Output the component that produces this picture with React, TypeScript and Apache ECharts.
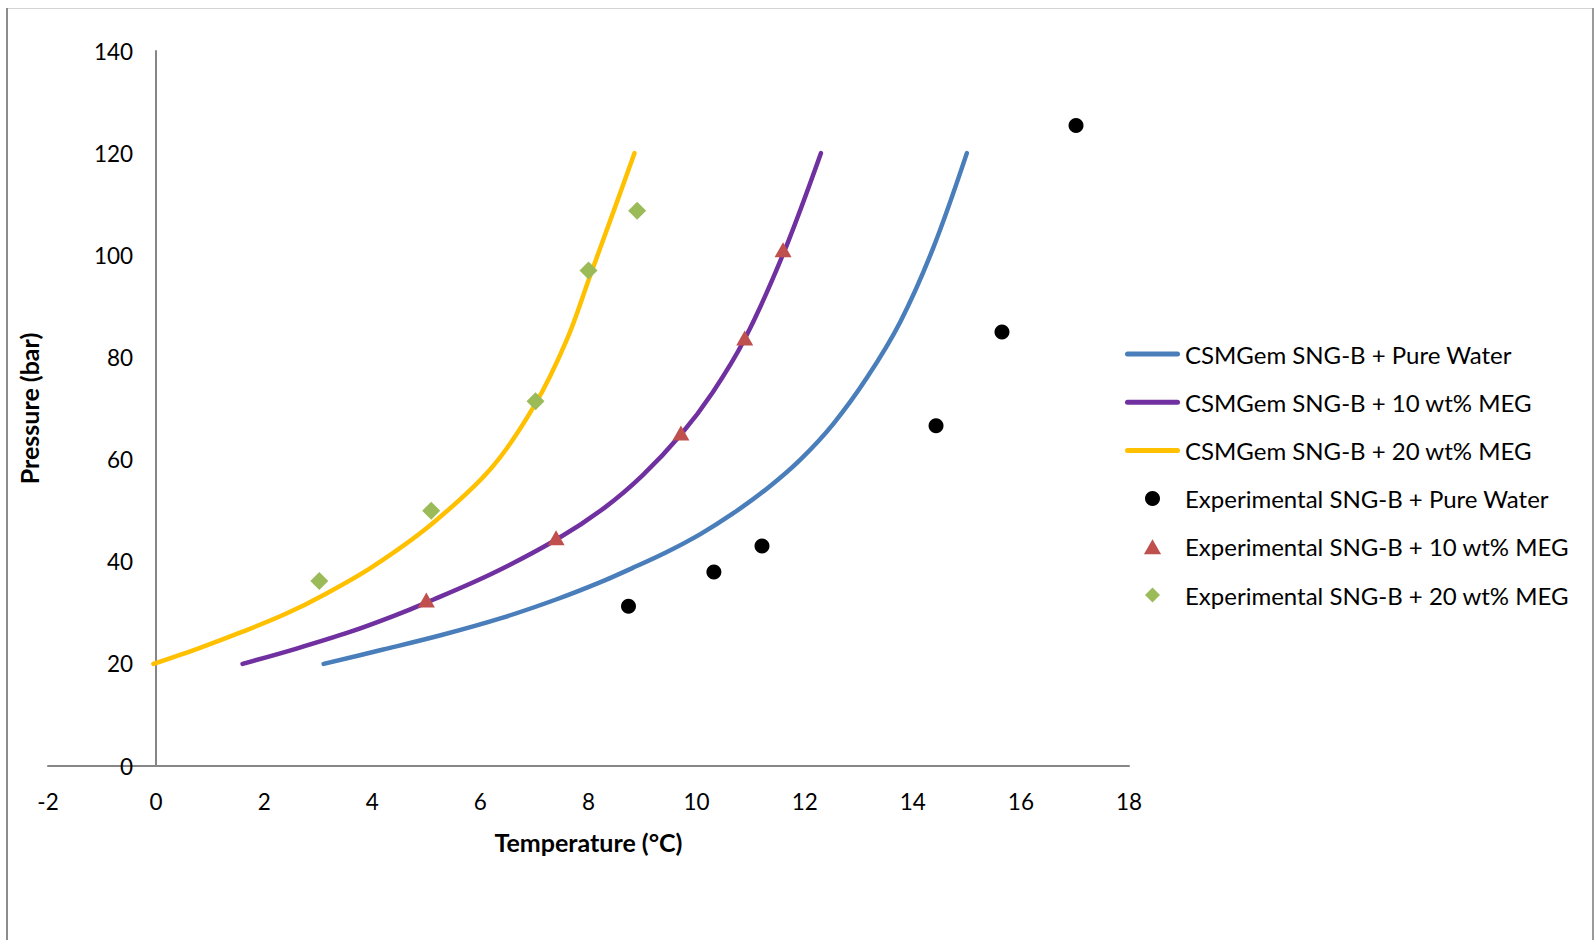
import React, { useEffect, useRef } from "react";
import * as echarts from "echarts";

const seriesNames = [
  "CSMGem SNG-B + Pure Water",
  "CSMGem SNG-B + 10 wt% MEG",
  "CSMGem SNG-B + 20 wt% MEG",
  "Experimental SNG-B + Pure Water",
  "Experimental SNG-B + 10 wt% MEG",
  "Experimental SNG-B + 20 wt% MEG",
];

// CSMGem model curves (temperature °C, pressure bar)
const modelWaterT = [3.1, 4.2, 5.3, 6.4, 7.4, 8.2, 8.8, 9.45, 10.07, 10.68, 11.3, 11.92, 12.53, 13.15, 13.77, 14.38, 15.0];
const modelWaterP = [20, 22.8, 25.7, 29.0, 32.6, 35.9, 38.7, 41.9, 45.4, 49.5, 54.3, 60.0, 67.0, 76.0, 87.0, 101.5, 120];

const modelMeg10T = [1.6, 2.6, 3.6, 4.4, 5.0, 6.2, 7.4, 8.3, 9.0, 9.71, 10.3, 10.89, 11.6, 12.3];
const modelMeg10P = [20, 23.0, 26.3, 29.4, 32.0, 37.6, 44.3, 50.6, 56.9, 64.9, 73.2, 83.6, 100.2, 120];

const modelMeg20T = [-0.05, 0.8, 1.6, 2.4, 3.1, 4.0, 5.1, 6.2, 7.0, 7.6, 8.03, 8.46, 8.85];
const modelMeg20P = [20, 23.1, 26.3, 29.8, 33.5, 39.0, 47.4, 58.3, 70.6, 83.5, 96.0, 108.5, 120];

// Experimental points
const expWaterT = [8.74, 10.32, 11.21, 14.43, 15.65, 17.02];
const expWaterP = [31.3, 38.0, 43.1, 66.6, 85.0, 125.4];

const expMeg10T = [5.0, 7.4, 9.71, 10.89, 11.6];
const expMeg10P = [32.5, 44.7, 65.2, 83.8, 101.1];

const expMeg20T = [3.02, 5.09, 7.02, 8.0, 8.9];
const expMeg20P = [36.2, 50.0, 71.4, 97.0, 108.7];

const xMin = -2, xMax = 18, xStep = 2;
const yMin = 0, yMax = 140, yStep = 20;

const zip = (a: number[], b: number[]) => a.map((v, i) => [v, b[i]]);

const FONT = "Lato, 'Open Sans', sans-serif";
const lineIcon = "path://M2.5,0 L52.5,0 A2.5,2.5 0 0 1 52.5,5 L2.5,5 A2.5,2.5 0 0 1 2.5,0 Z";
const triIcon = "path://M8,0 L16,14 L0,14 Z";
const diaIcon = "path://M7.5,0 L15,7.5 L7.5,15 L0,7.5 Z";
const dotIcon = "path://M7.5,0 A7.5,7.5 0 1 1 7.49,0 Z";

const GRID_LEFT = 48, GRID_RIGHT = 466, GRID_TOP = 51, GRID_BOTTOM = 174, W = 1595;

export default function App() {
  const ref = useRef<HTMLDivElement>(null);
  useEffect(() => {
    document.body.style.margin = "0";
    if (!ref.current) return;
    const chart = echarts.init(ref.current, null, { renderer: "svg" });
    const lineColors = ["#4A7EBB", "#7030A0", "#FFC000"];
    const modelData = [zip(modelWaterT, modelWaterP), zip(modelMeg10T, modelMeg10P), zip(modelMeg20T, modelMeg20P)];
    const expData = [zip(expWaterT, expWaterP), zip(expMeg10T, expMeg10P), zip(expMeg20T, expMeg20P)];
    const expColors = ["#000000", "#C0504D", "#9BBB59"];
    const expSymbols = ["circle", "triangle", "diamond"];
    const expSizes: any[] = [15, [17, 15], 18];

    // y axis crosses the x axis at T = 0
    const plotW = W - GRID_LEFT - GRID_RIGHT;
    const yAxisOffset = -((0 - xMin) / (xMax - xMin)) * plotW;

    const series: any[] = [];
    modelData.forEach((d, i) => {
      series.push({
        name: seriesNames[i],
        type: "line",
        data: d,
        smooth: 0.35,
        symbol: "none",
        showSymbol: false,
        color: lineColors[i],
        lineStyle: { width: 4.5, color: lineColors[i], cap: "round" },
        z: 2,
      });
    });
    expData.forEach((d, i) => {
      series.push({
        name: seriesNames[i + 3],
        type: "scatter",
        data: d,
        symbol: expSymbols[i],
        symbolSize: expSizes[i],
        color: expColors[i],
        itemStyle: { color: expColors[i], opacity: 1 },
        z: 3,
      });
    });

    chart.setOption({
      animation: false,
      backgroundColor: "#ffffff",
      grid: { left: GRID_LEFT, right: GRID_RIGHT, top: GRID_TOP, bottom: GRID_BOTTOM, containLabel: false, outerBoundsMode: "none" },
      xAxis: {
        type: "value",
        min: xMin,
        max: xMax,
        interval: xStep,
        name: "Temperature (°C)",
        nameLocation: "middle",
        nameGap: 63,
        nameTextStyle: { fontFamily: FONT, fontSize: 25, fontWeight: "bold", color: "#000" },
        axisLine: { show: true, onZero: false, lineStyle: { color: "#868686", width: 2 } },
        axisTick: { show: false },
        splitLine: { show: false },
        axisLabel: { fontFamily: FONT, fontSize: 22.5, color: "#000", margin: 24 },
      },
      yAxis: {
        type: "value",
        min: yMin,
        max: yMax,
        interval: yStep,
        offset: yAxisOffset,
        name: "Pressure (bar)",
        nameLocation: "middle",
        nameGap: 115,
        nameTextStyle: { fontFamily: FONT, fontSize: 25, fontWeight: "bold", color: "#000" },
        axisLine: { show: true, onZero: false, lineStyle: { color: "#868686", width: 2 } },
        axisTick: { show: false },
        splitLine: { show: false },
        axisLabel: { fontFamily: FONT, fontSize: 22.5, color: "#000", margin: 23 },
      },
      legend: {
        orient: "vertical",
        left: 1120,
        top: 337,
        padding: 5,
        itemWidth: 55,
        itemHeight: 15,
        itemGap: 24.2,
        symbolKeepAspect: true,
        textStyle: { fontFamily: FONT, fontSize: 24, lineHeight: 22, color: "#000" },
        data: [
          { name: seriesNames[0], icon: lineIcon },
          { name: seriesNames[1], icon: lineIcon },
          { name: seriesNames[2], icon: lineIcon },
          { name: seriesNames[3], icon: dotIcon },
          { name: seriesNames[4], icon: triIcon },
          { name: seriesNames[5], icon: diaIcon },
        ],
      },
      graphic: [
        { type: "line", shape: { x1: 7, y1: 8.5, x2: 1593, y2: 8.5 }, style: { stroke: "#d4d4d4", lineWidth: 1 }, silent: true },
        { type: "line", shape: { x1: 7, y1: 8, x2: 7, y2: 940 }, style: { stroke: "#8c8c8c", lineWidth: 2 }, silent: true },
        { type: "line", shape: { x1: 1593, y1: 8, x2: 1593, y2: 940 }, style: { stroke: "#9a9a9a", lineWidth: 2 }, silent: true },
      ],
      series,
    });
    return () => chart.dispose();
  }, []);
  return <div ref={ref} style={{ width: 1595, height: 940 }} />;
}
